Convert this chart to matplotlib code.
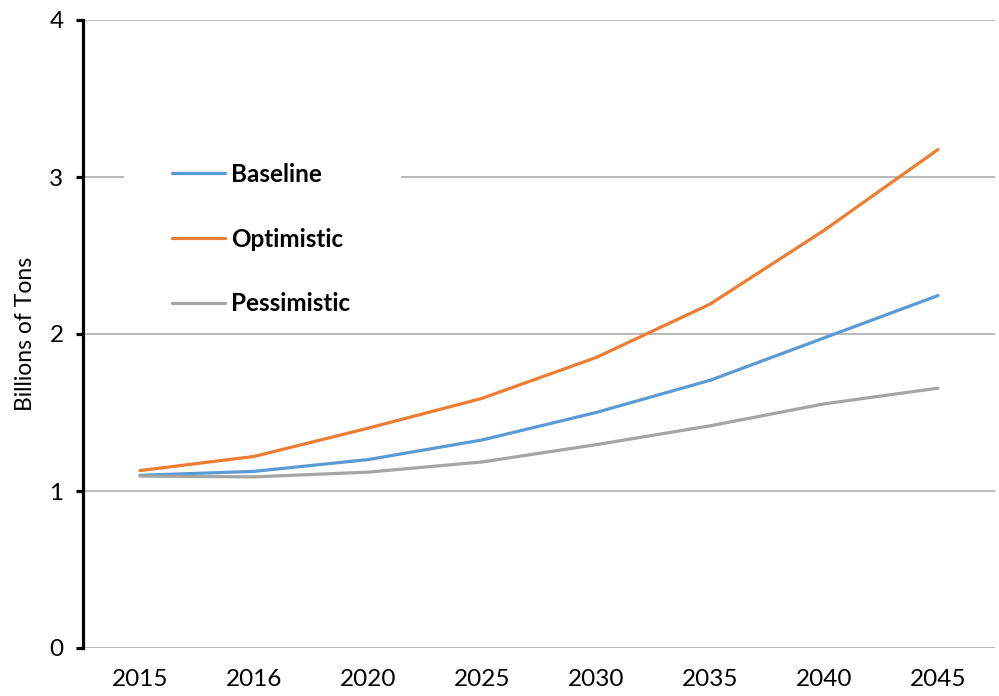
import matplotlib
matplotlib.use('Agg')
from matplotlib import pyplot as plt
from matplotlib.patches import Rectangle

years = ['2015', '2016', '2020', '2025', '2030', '2035', '2040', '2045']
baseline = [1.10, 1.125, 1.20, 1.325, 1.50, 1.705, 1.975, 2.245]
optimistic = [1.13, 1.22, 1.40, 1.59, 1.85, 2.19, 2.66, 3.175]
pessimistic = [1.095, 1.09, 1.12, 1.185, 1.295, 1.415, 1.555, 1.655]

series_names = ['Baseline', 'Optimistic', 'Pessimistic']
series_colors = ['#5b9bd5', '#ed7d31', '#a5a5a5']

plt.rcParams['font.family'] = ['Lato', 'DejaVu Sans']

fig = plt.figure(figsize=(9.99, 6.96), dpi=100)
ax = fig.add_axes([83 / 999, 48 / 696, 912 / 999, 628 / 696])

x = list(range(len(years)))
for values, name, color in zip([baseline, optimistic, pessimistic], series_names, series_colors):
    ax.plot(x, values, color=color, linewidth=2.3, label=name, solid_capstyle='round', zorder=3)

ax.set_xlim(-0.5, len(years) - 0.5)
ax.set_ylim(0, 4)
ax.set_yticks([0, 1, 2, 3, 4])
ax.set_xticks(x)
ax.set_xticklabels(years)
ax.yaxis.grid(True, color='#a6a6a6', linewidth=1.1)
ax.set_axisbelow(True)

for side in ['top', 'right', 'bottom']:
    ax.spines[side].set_visible(False)
ax.spines['left'].set_linewidth(2.3)
ax.spines['left'].set_color('black')

ax.tick_params(axis='y', length=5, width=2.3, direction='out', labelsize=17.5, pad=9)
ax.tick_params(axis='x', length=0, labelsize=17.5, pad=15)
ax.set_ylabel('Billions of Tons', fontsize=16.5, labelpad=10)

# white box behind the legend, hides the gridline like the original
ax.add_patch(Rectangle((124 / 999, 1 - 330 / 696), 277 / 999, 180 / 696,
                       transform=fig.transFigure, facecolor='white',
                       edgecolor='none', zorder=1))

leg = ax.legend(loc='upper left', bbox_to_anchor=(167 / 999, 1 - 158 / 696),
                bbox_transform=fig.transFigure, frameon=False,
                prop={'weight': 'bold', 'size': 17.5}, labelspacing=1.72,
                handlelength=2.2, handletextpad=0.25, borderpad=0.2, borderaxespad=0)
for t in leg.get_texts():
    t.set_color('black')

plt.savefig('out.png', dpi=100)
plt.close()
